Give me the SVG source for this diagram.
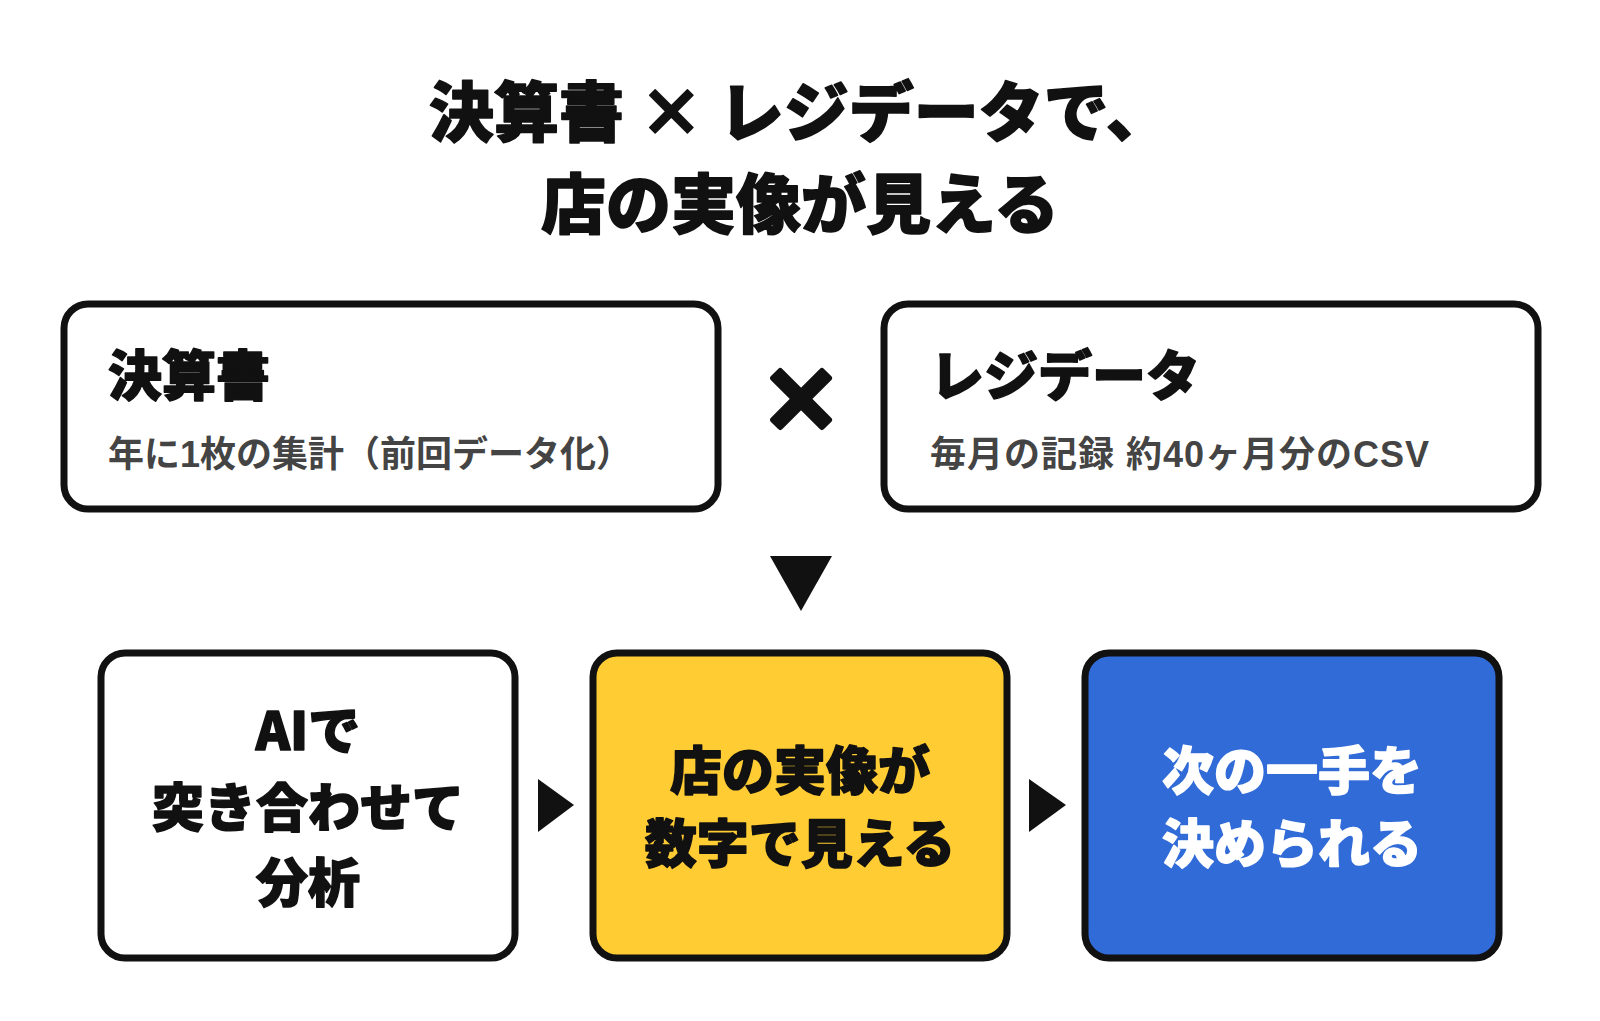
<svg xmlns="http://www.w3.org/2000/svg" width="1600" height="1021" viewBox="0 0 1600 1021">
<style>
.t{font-family:"Noto Sans CJK JP","Noto Sans",sans-serif;font-weight:900;fill:#111;stroke:#111;stroke-width:1.5;stroke-linejoin:round}
.w{fill:#fff;stroke:#fff}
.s{font-family:"Liberation Sans","Noto Sans CJK JP",sans-serif;font-weight:700;fill:#444}
.box{stroke:#111;stroke-width:7}
.arr{fill:#111}
</style>
<rect width="1600" height="1021" fill="#fff"/>
<g id="title">
<text class="t" x="800" y="136" font-size="65" text-anchor="middle">決算書 × レジデータで、</text>
<text class="t" x="800" y="228" font-size="65" text-anchor="middle">店の実像が見える</text>
</g>
<g id="node-kessan">
<rect class="box" x="64" y="304" width="654" height="205" rx="24" fill="#fff"/>
<text class="t" x="108" y="396" font-size="54">決算書</text>
<text class="s" x="108" y="467" font-size="36">年に1枚の集計（前回データ化）</text>
</g>
<g id="node-times">
<text class="t" x="801" y="431" font-size="84" text-anchor="middle" style="stroke-width:6">×</text>
</g>
<g id="node-reji">
<rect class="box" x="884" y="304" width="654" height="205" rx="24" fill="#fff"/>
<text class="t" x="930" y="396" font-size="54">レジデータ</text>
<text class="s" x="930" y="467" font-size="36" letter-spacing="1">毎月の記録 約40ヶ月分のCSV</text>
</g>
<g id="node-ai">
<rect class="box" x="101" y="653" width="414" height="305" rx="24" fill="#fff"/>
<text class="t" x="308" y="750" font-size="52" text-anchor="middle">AIで</text>
<text class="t" x="308" y="827" font-size="52" text-anchor="middle">突き合わせて</text>
<text class="t" x="308" y="902" font-size="52" text-anchor="middle">分析</text>
</g>
<g id="node-jitsuzo">
<rect class="box" x="593" y="653" width="414" height="305" rx="24" fill="#FFCC33"/>
<text class="t" x="800" y="790" font-size="52" text-anchor="middle">店の実像が</text>
<text class="t" x="800" y="863" font-size="52" text-anchor="middle">数字で見える</text>
</g>
<g id="node-next">
<rect class="box" x="1085" y="653" width="414" height="305" rx="24" fill="#306BD8"/>
<text class="t w" x="1292" y="790" font-size="52" text-anchor="middle">次の一手を</text>
<text class="t w" x="1292" y="863" font-size="52" text-anchor="middle">決められる</text>
</g>
<g id="connectors">
<polygon class="arr" points="770,556 832,556 801,611"/>
<polygon class="arr" points="538,779 574,805 538,832"/>
<polygon class="arr" points="1029,779 1066,805 1029,832"/>
</g>
</svg>
